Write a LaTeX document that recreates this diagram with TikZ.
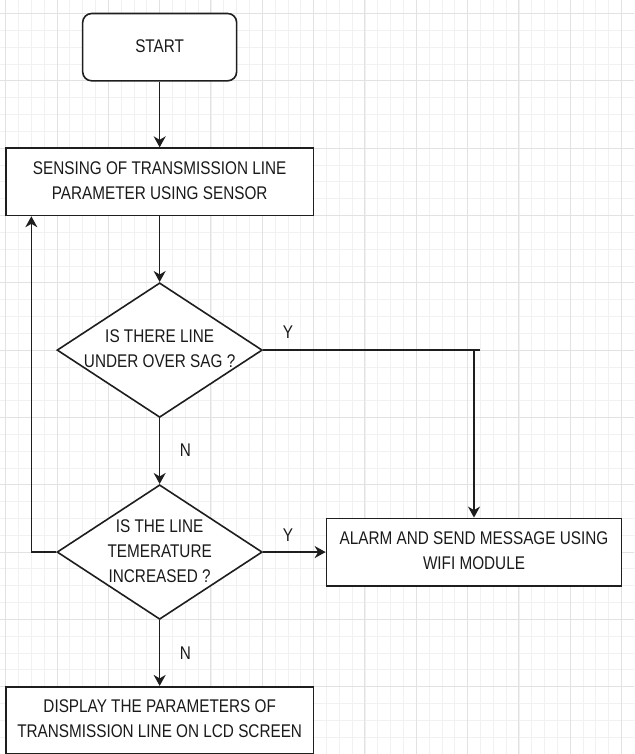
\documentclass[tikz,border=0pt]{standalone}
\usepackage{fontspec}
\setmainfont{Liberation Sans}
\usepackage{graphicx}
\usetikzlibrary{shapes.geometric,arrows.meta}
\definecolor{linec}{HTML}{1E1E1E}
\definecolor{txtc}{HTML}{1A1A1A}
\definecolor{gmaj}{HTML}{E2E2E2}
\definecolor{gmin}{HTML}{F1F1F1}
\newcommand{\vtxt}[1]{\scalebox{1}[1.2]{\begin{tabular}{@{}c@{}}#1\end{tabular}}}
\begin{document}
\begin{tikzpicture}[
  every node/.style={font=\fontsize{15.3}{20.8}\selectfont, text=txtc},
  box/.style={draw=linec, line width=1.6pt, fill=white, inner sep=0pt},
  dec/.style={box, diamond, aspect=1, minimum width=205.3pt, minimum height=134.6pt},
  ln/.style={draw=linec, line width=1.6pt},
  arr/.style={ln, -{Stealth[length=11pt, width=12pt, inset=3.5pt]}},
  lbl/.style={inner sep=0pt},
  gminor/.style={draw=gmin, line width=0.8pt},
  gmajor/.style={draw=gmaj, line width=1pt}
]
\useasboundingbox (0,0) rectangle (634pt,-754pt);
\clip (0,0) rectangle (634pt,-754pt);
\fill[white] (0,0) rectangle (634pt,-754pt);
\begin{scope}[x=1.283pt, y=-1.683pt, shift={(5.7pt,-13.5pt)}]
  % grid
  \foreach \k in {-1,...,49} {
    \draw[gminor] (10*\k,-10) -- (10*\k,450);
  }
  \foreach \k in {-1,...,45} {
    \draw[gminor] (-10,10*\k) -- (500,10*\k);
  }
  \foreach \k in {0,40,...,480} {
    \draw[gmajor] (\k,-10) -- (\k,450);
  }
  \foreach \k in {0,40,...,440} {
    \draw[gmajor] (-10,\k) -- (500,\k);
  }

  % nodes
  \node[box, rounded corners=9pt, minimum width=153.96pt, minimum height=67.32pt] (start) at (120,20) {\vtxt{START}};
  \node[box, minimum width=307.9pt, minimum height=67.32pt] (sense) at (120,100)
    {\vtxt{SENSING OF TRANSMISSION LINE\\PARAMETER USING SENSOR}};
  \node[dec, label={[lbl]center:{\vtxt{IS THERE LINE\\UNDER OVER SAG ?}}}] (d1) at (120,200) {};
  \node[dec, label={[lbl]center:{\vtxt{IS THE LINE\\TEMERATURE\\INCREASED ?}}}] (d2) at (120,320) {};
  \node[box, minimum width=295.1pt, minimum height=67.32pt] (alarm) at (365,320)
    {\vtxt{ALARM AND SEND MESSAGE USING\\WIFI MODULE}};
  \node[box, minimum width=307.9pt, minimum height=67.32pt] (disp) at (120,420)
    {\vtxt{DISPLAY THE PARAMETERS OF\\TRANSMISSION LINE ON LCD SCREEN}};

  % labels
  \node[lbl] (y1) at (220,190) {\vtxt{Y}};
  \node[lbl] (n1) at (140,260) {\vtxt{N}};
  \node[lbl] (y2) at (220,311) {\vtxt{Y}};
  \node[lbl] (n2) at (140,381) {\vtxt{N}};

  % connectors
  \coordinate (yend) at (370,200);
  \coordinate (ydrop) at (365,200);
  \coordinate (fb) at (20,320);
  \draw[arr] (start) -- (sense);
  \draw[arr] (sense) -- (d1);
  \draw[ln] (d1.east) -- (yend);
  \draw[arr] (ydrop) -- (alarm.north);
  \draw[arr] (d1) -- (d2);
  \draw[arr] (d2.east) -- (alarm.west);
  \draw[arr, line join=miter] (d2.west) -- (fb) -- (fb |- sense.south);
  \draw[arr] (d2) -- (disp);
\end{scope}
\end{tikzpicture}
\end{document}
